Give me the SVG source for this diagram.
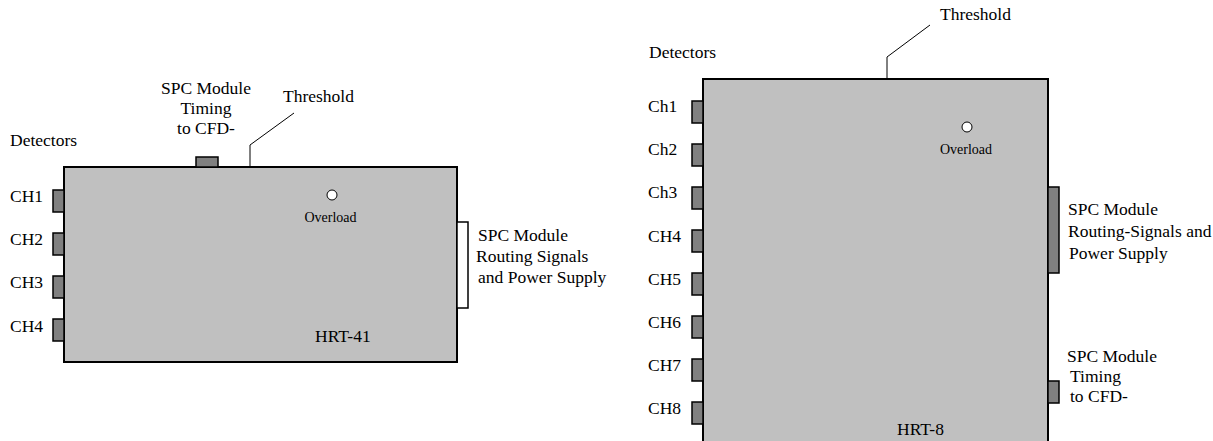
<svg xmlns="http://www.w3.org/2000/svg" width="1213" height="441" viewBox="0 0 1213 441">
<style>
text{font-family:"Liberation Serif","Times New Roman",serif;font-size:17.5px;fill:#000}
.small{font-size:14px}
.box{fill:#c0c0c0;stroke:#000;stroke-width:2}
.conn{fill:#808080;stroke:#000;stroke-width:1.5}
.connw{fill:#fff;stroke:#000;stroke-width:1.5}
.led{fill:#fff;stroke:#000;stroke-width:1}
.lead{fill:none;stroke:#000;stroke-width:1}
</style>
<rect width="1213" height="441" fill="#fff"/>
<g id="connectors">
<polyline class="lead" points="250,167 250,145 294,113"/>
<polyline class="lead" points="887,79 887,57 930,25"/>
</g>
<g id="hrt41">
<rect class="box" x="64" y="167" width="393" height="195"/>
<rect class="conn" x="196" y="157" width="22" height="10"/>
<rect class="conn" x="53" y="190" width="11" height="22"/>
<rect class="conn" x="53" y="233" width="11" height="22"/>
<rect class="conn" x="53" y="276" width="11" height="22"/>
<rect class="conn" x="53" y="319" width="11" height="22"/>
<rect class="connw" x="457" y="222" width="11" height="86"/>
<circle class="led" cx="332" cy="195" r="5"/>
<text class="small" x="330.5" y="222" text-anchor="middle">Overload</text>
<text x="315" y="342">HRT-41</text>
</g>
<g id="hrt41-labels">
<text x="10" y="146">Detectors</text>
<text x="10" y="202">CH1</text>
<text x="10" y="245">CH2</text>
<text x="10" y="288">CH3</text>
<text x="10" y="332">CH4</text>
<text x="206" y="94" text-anchor="middle">SPC Module</text>
<text x="206" y="114" text-anchor="middle">Timing</text>
<text x="206" y="134" text-anchor="middle">to CFD-</text>
<text x="283" y="102">Threshold</text>
<text x="478" y="241">SPC Module</text>
<text x="476" y="262">Routing Signals</text>
<text x="478" y="283">and Power Supply</text>
</g>
<g id="hrt8">
<rect class="box" x="703" y="79" width="345" height="380"/>
<rect class="conn" x="692" y="101" width="11" height="22"/>
<rect class="conn" x="692" y="144" width="11" height="22"/>
<rect class="conn" x="692" y="187" width="11" height="22"/>
<rect class="conn" x="692" y="230" width="11" height="22"/>
<rect class="conn" x="692" y="273" width="11" height="22"/>
<rect class="conn" x="692" y="316" width="11" height="22"/>
<rect class="conn" x="692" y="359" width="11" height="22"/>
<rect class="conn" x="692" y="402" width="11" height="22"/>
<rect class="conn" x="1048" y="187" width="11" height="86"/>
<rect class="conn" x="1048" y="381" width="11" height="22"/>
<circle class="led" cx="967" cy="127" r="5"/>
<text class="small" x="966" y="154" text-anchor="middle">Overload</text>
<text x="897" y="435">HRT-8</text>
</g>
<g id="hrt8-labels">
<text x="649" y="58">Detectors</text>
<text x="940" y="20">Threshold</text>
<text x="648" y="112">Ch1</text>
<text x="648" y="155">Ch2</text>
<text x="648" y="198">Ch3</text>
<text x="648" y="242">CH4</text>
<text x="648" y="285">CH5</text>
<text x="648" y="328">CH6</text>
<text x="648" y="371">CH7</text>
<text x="648" y="414">CH8</text>
<text x="1068" y="215">SPC Module</text>
<text x="1068" y="237">Routing-Signals and</text>
<text x="1069" y="259">Power Supply</text>
<text x="1067" y="362">SPC Module</text>
<text x="1070" y="382">Timing</text>
<text x="1070" y="402">to CFD-</text>
</g>
</svg>
